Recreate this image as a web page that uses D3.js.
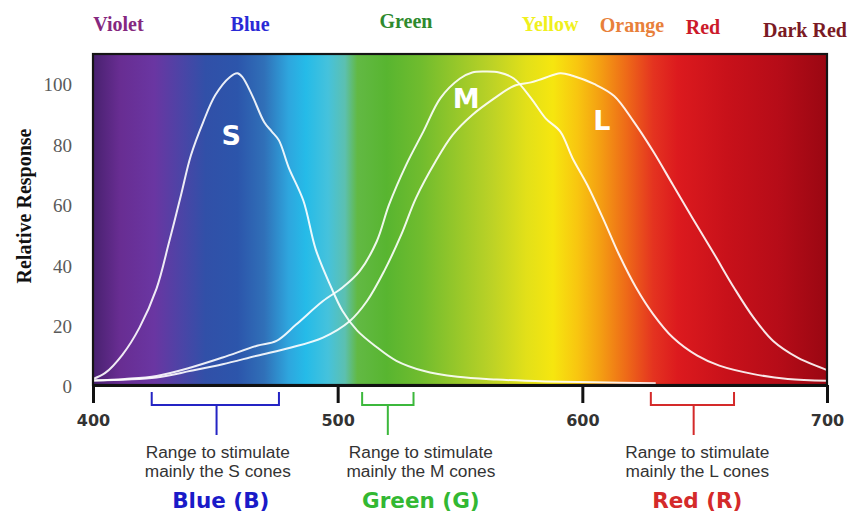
<!DOCTYPE html>
<html>
<head>
<meta charset="utf-8">
<script src="https://cdn.jsdelivr.net/npm/d3@7"></script>
<style>
  html, body { margin: 0; padding: 0; background: #ffffff; }
  svg { display: block; }
</style>
</head>
<body>
<svg id="chart" width="850" height="518"></svg>
<script>
// ---------------- DATA ----------------
// S cone response
const sLambda = [400,405,412,419,426,431,436,440,445,450,456,459,461,465,470,473,476,480,486,491,497,502,508,516,524,535,549,565,585,605,630];
const sValues = [2,4,10,19,32,47,63,76,87,96,102,103.2,102,96,87,84,81,72,61,45,33,24.5,18,12.5,8,4.7,2.7,1.8,1.2,0.9,0.6];
// M cone response
const mLambda = [400,413,426,440,453,467,475,483,494,502,509,516,521,528,535,542,550,555,560,566,572,579,585,591,596,602,609,615,622,629,637,647,656,670,684,700];
const mValues = [1.5,2,3,5.8,9.1,13,14.6,20,27.8,32.3,37.7,47.6,59.7,72.9,83.9,95,101.5,103.5,103.8,103.5,101.5,95,88.3,83.9,75.1,66.3,54.2,43.2,32.2,23.4,15.7,9.7,6.4,3.6,2,1.4];
// L cone response
const lLambda = [400,426,440,453,467,481,494,505,512,519,526,532,540,547,555,564,572,579,584,591,596,605,613,621,629,637,645,654,662,670,678,688,700];
const lValues = [1.5,2.5,4.7,6.9,9.7,12.4,15.7,21.2,27.8,37.7,49.8,61.9,74,82.8,89.4,94.9,99,100.2,101.5,103.2,102.4,99.6,95.7,87.2,77.3,66.3,55.3,43.2,32.2,22.3,14.6,9.1,5];

const coneNames = ["S", "M", "L"];
const coneLabelLambda = [456.5, 552.5, 608];
const coneLabelValue = [82.5, 95, 87.5];

// Colour names along the spectrum
const colorNames = ["Violet", "Blue", "Green", "Yellow", "Orange", "Red", "Dark Red"];
const colorNameLambda = [410.4, 464.2, 527.9, 586.8, 620.3, 649.3, 691];

// Axis ticks
const xTicks = [400, 500, 600, 700];
const yTicks = [0, 20, 40, 60, 80, 100];
const yLabel = "Relative Response";

// Stimulation ranges
const rangeStart = [424, 510, 628];
const rangeEnd = [476, 531, 662];
const rangeStem = [450.5, 520.5, 645.5];
const rangeTextLambda = [451, 534, 647];
const rangeLine1 = ["Range to stimulate", "Range to stimulate", "Range to stimulate"];
const rangeLine2 = ["mainly the S cones", "mainly the M cones", "mainly the L cones"];
const rangeNames = ["Blue (B)", "Green (G)", "Red (R)"];

// ---------------- STYLE ----------------
const colorNameFill = ["#85287f", "#2a2ad6", "#2e8a2e", "#f0f01c", "#e8803a", "#cc1a2a", "#7a1a24"];
const colorNameBaseline = [31, 31, 28, 31, 31.5, 34, 37];
const rangeColors = ["#2424c4", "#3cb83c", "#d42a2a"];
const rangeNameColors = ["#1a1ac8", "#33b833", "#d42a2a"];
const spectrumStops = [
  [400, "#48216f"], [411, "#682d92"], [425, "#6a36a2"], [436, "#4c44a6"],
  [446, "#3150a8"], [459, "#2c55ab"], [470, "#3070b8"], [480, "#2ea6de"],
  [487, "#25bbe8"], [496, "#45c2dc"], [503, "#5cc0b0"], [508, "#62b944"],
  [520, "#58b530"], [534, "#70bc2e"], [548, "#95c72a"], [563, "#bcd226"],
  [577, "#e2e019"], [588, "#f6e60f"], [598, "#f8c610"], [607, "#f4a012"],
  [618, "#ee6a18"], [629, "#e43320"], [639, "#dc1a1e"], [659, "#c8111a"],
  [680, "#b60c18"], [700, "#9a0712"]
];

// ---------------- CHART ----------------
const svg = d3.select("#chart");
const x = d3.scaleLinear().domain([400, 700]).range([93, 827]);
const y = d3.scaleLinear().domain([0, 100]).range([385, 83]);
const yTopValue = 109.6;

const plotLeft = x(400), plotRight = x(700), plotTop = y(yTopValue), plotBottom = y(0);

const defs = svg.append("defs");
const grad = defs.append("linearGradient")
  .attr("id", "spectrum")
  .attr("gradientUnits", "userSpaceOnUse")
  .attr("x1", plotLeft).attr("x2", plotRight)
  .attr("y1", 0).attr("y2", 0);
grad.selectAll("stop").data(spectrumStops).join("stop")
  .attr("offset", d => (d[0] - 400) / 300)
  .attr("stop-color", d => d[1]);

defs.append("clipPath").attr("id", "plotClip")
  .append("rect")
  .attr("x", plotLeft).attr("y", plotTop)
  .attr("width", plotRight - plotLeft).attr("height", plotBottom - plotTop);

// background spectrum
svg.append("rect")
  .attr("x", plotLeft).attr("y", plotTop)
  .attr("width", plotRight - plotLeft).attr("height", plotBottom - plotTop)
  .attr("fill", "url(#spectrum)");

// curves
const series = [
  sLambda.map((l, i) => [l, sValues[i]]),
  mLambda.map((l, i) => [l, mValues[i]]),
  lLambda.map((l, i) => [l, lValues[i]])
];
const line = d3.line()
  .x(d => x(d[0])).y(d => y(d[1]))
  .curve(d3.curveCatmullRom.alpha(0.5));
svg.append("g").attr("clip-path", "url(#plotClip)")
  .selectAll("path").data(series).join("path")
  .attr("d", line)
  .attr("fill", "none")
  .attr("stroke", "#ffffff")
  .attr("stroke-opacity", 0.9)
  .attr("stroke-width", 2);

// cone labels
svg.append("g").selectAll("text").data(coneNames).join("text")
  .attr("x", (d, i) => x(coneLabelLambda[i]))
  .attr("y", (d, i) => y(coneLabelValue[i]))
  .attr("text-anchor", "middle")
  .attr("dominant-baseline", "central")
  .attr("font-family", "'DejaVu Sans', Verdana, sans-serif")
  .attr("font-weight", "bold")
  .attr("font-size", 27)
  .attr("fill", "#ffffff")
  .text(d => d);

// plot frame (top, left, right)
svg.append("rect")
  .attr("x", plotLeft).attr("y", plotTop)
  .attr("width", plotRight - plotLeft).attr("height", plotBottom - plotTop)
  .attr("fill", "none")
  .attr("stroke", "#151515")
  .attr("stroke-width", 2.2);

// x axis
const xAxis = svg.append("g")
  .attr("transform", `translate(0,${plotBottom})`)
  .call(d3.axisBottom(x).tickValues(xTicks).tickSize(18).tickSizeOuter(0).tickPadding(12).tickFormat(d3.format("d")));
xAxis.select(".domain").attr("stroke", "#111").attr("stroke-width", 3.2);
xAxis.selectAll(".tick line").attr("stroke", "#111").attr("stroke-width", 3);
xAxis.selectAll(".tick text")
  .attr("font-family", "'DejaVu Sans', Verdana, sans-serif")
  .attr("font-weight", "bold")
  .attr("font-size", 16)
  .attr("fill", "#333");

// y axis
const yAxis = svg.append("g")
  .attr("transform", `translate(${plotLeft},0)`)
  .call(d3.axisLeft(y).tickValues(yTicks).tickSize(0).tickPadding(21));
yAxis.select(".domain").remove();
yAxis.selectAll(".tick text")
  .attr("font-family", "'Liberation Serif', 'Times New Roman', serif")
  .attr("font-size", 19)
  .attr("fill", "#5a5a5a")
  .attr("dy", "0.42em");

svg.append("text")
  .attr("transform", "translate(24,206) rotate(-90)")
  .attr("text-anchor", "middle")
  .attr("dominant-baseline", "central")
  .attr("font-family", "'Liberation Serif', 'Times New Roman', serif")
  .attr("font-weight", "bold")
  .attr("font-size", 20)
  .attr("fill", "#111")
  .text(yLabel);

// top colour names
svg.append("g").selectAll("text").data(colorNames).join("text")
  .attr("x", (d, i) => x(colorNameLambda[i]))
  .attr("y", (d, i) => colorNameBaseline[i])
  .attr("text-anchor", "middle")
  .attr("font-family", "'Liberation Serif', 'Times New Roman', serif")
  .attr("font-weight", "bold")
  .attr("font-size", 20)
  .attr("fill", (d, i) => colorNameFill[i])
  .text(d => d);

// stimulation range brackets
const bracketTop = 392, bracketBar = 405, stemBottom = 435;
const brackets = svg.append("g").selectAll("g").data(rangeNames).join("g");
brackets.append("path")
  .attr("d", (d, i) => {
    const a = x(rangeStart[i]), b = x(rangeEnd[i]), c = x(rangeStem[i]);
    return `M${a},${bracketTop}V${bracketBar}H${b}V${bracketTop}M${c},${bracketBar}V${stemBottom}`;
  })
  .attr("fill", "none")
  .attr("stroke", (d, i) => rangeColors[i])
  .attr("stroke-width", 2);

const textFont = "'Liberation Sans', Arial, sans-serif";
brackets.append("text")
  .attr("x", (d, i) => x(rangeTextLambda[i]))
  .attr("y", 457.5)
  .attr("text-anchor", "middle")
  .attr("font-family", textFont)
  .attr("font-size", 17.3)
  .attr("fill", "#333")
  .text((d, i) => rangeLine1[i]);
brackets.append("text")
  .attr("x", (d, i) => x(rangeTextLambda[i]))
  .attr("y", 476.5)
  .attr("text-anchor", "middle")
  .attr("font-family", textFont)
  .attr("font-size", 17.3)
  .attr("fill", "#333")
  .text((d, i) => rangeLine2[i]);
brackets.append("text")
  .attr("x", (d, i) => x(rangeTextLambda[i]) + (i === 0 ? 3 : 0))
  .attr("y", 507.5)
  .attr("text-anchor", "middle")
  .attr("font-family", "'DejaVu Sans', Verdana, sans-serif")
  .attr("font-weight", "bold")
  .attr("font-size", 21.5)
  .attr("fill", (d, i) => rangeNameColors[i])
  .text(d => d);
</script>
</body>
</html>
